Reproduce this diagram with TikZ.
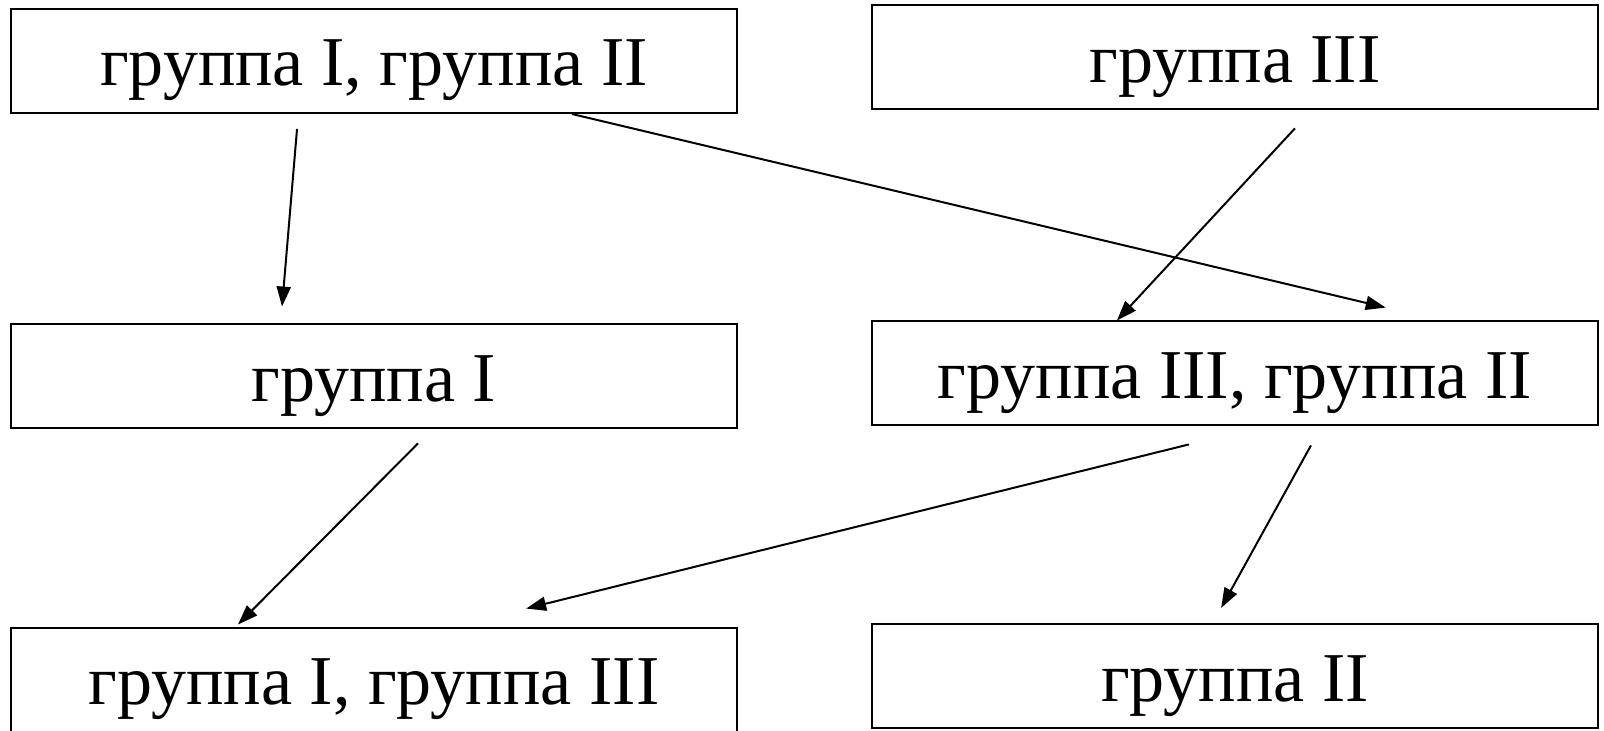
\documentclass[tikz,border=0pt]{standalone}
\usepackage{fontspec}
\setmainfont{Liberation Serif}
\usetikzlibrary{arrows.meta,calc}

\begin{document}
\begin{tikzpicture}[x=0.5pt,y=-0.5pt,>={Triangle[length=10pt,width=7pt]},
    grp/.style={draw,line width=1pt,minimum width=363pt,minimum height=52pt,
      inner sep=0pt,text height=25pt,text depth=0pt,
      font=\fontsize{35}{40}\selectfont},
    link/.style={->,line width=1pt}]
    \useasboundingbox (0,0) rectangle (1604,731);

    \node[grp] (g12)  at (374,61)    {группа I, группа II};
    \node[grp] (g3)   at (1235,57.5) {группа III};
    \node[grp] (g1)   at (374,376.5) {группа I};
    \node[grp] (g32)  at (1235,373.5){группа III, группа II};
    \node[grp] (g13)  at (374,679.5) {группа I, группа III};
    \node[grp] (g2)   at (1235,676)  {группа II};

    % arrows leave a gap to the boxes
    \draw[link,shorten <=7.5pt,shorten >=8.5pt]
      ($(g12.south west)+(288.3,0)$) -- ($(g1.north west)+(270.6,0)$);
    \draw[link,shorten >=27.9pt]
      ($(g12.south west)+(562,0)$) -- ($(g32.north west)+(569,0)$);
    \draw[link,shorten <=12.2pt]
      ($(g3.south west)+(440.5,0)$) -- ($(g32.north west)+(245.9,0)$);
    \draw[link,shorten <=9.8pt,shorten >=1.4pt]
      ($(g1.south west)+(421.8,0)$) -- ($(g13.north west)+(226,0)$);
    \draw[link,shorten <=37.3pt,shorten >=37.3pt]
      ($(g32.south west)+(390.3,0)$) -- ($(g13.north west)+(443.7,0)$);
    \draw[link,shorten <=10.8pt,shorten >=8.6pt]
      ($(g32.south west)+(450.4,0)$) -- ($(g2.north west)+(341.8,0)$);
\end{tikzpicture}
\end{document}
